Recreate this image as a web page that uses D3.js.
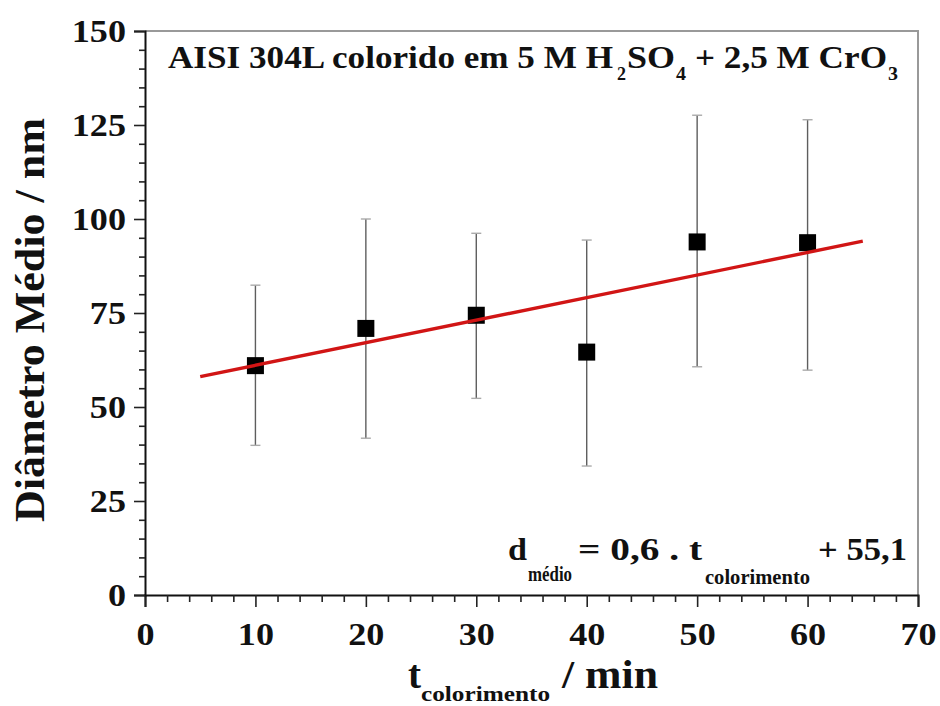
<!DOCTYPE html>
<html>
<head>
<meta charset="utf-8">
<script src="https://cdn.jsdelivr.net/npm/d3@7/dist/d3.min.js"></script>
<style>
  html, body { margin: 0; padding: 0; background: #fff; }
  svg { display: block; }
  text { font-family: "Liberation Serif", "Times New Roman", serif; font-weight: bold; fill: #111; }
</style>
</head>
<body>
<svg id="chart" width="940" height="706"></svg>
<script>
// Colouring time (min) and mean pore diameter (nm) with standard deviation
const times = [10, 20, 30, 40, 50, 60];
const diameters = [61, 70.9, 74.4, 64.6, 93.9, 93.7];
const errLow = [39.8, 41.7, 52.3, 34.3, 60.7, 59.8];
const errHigh = [82.4, 100, 96.2, 94.4, 127.6, 126.4];

// Linear fit: d = 0.6 t + 55.1, drawn between t = 5 and t = 65
const fitSlope = 0.6;
const fitIntercept = 55.1;
const fitRange = [5, 65];

const xTicks = [0, 10, 20, 30, 40, 50, 60, 70];
const yTicks = [0, 25, 50, 75, 100, 125, 150];

const svg = d3.select("#chart");
const margin = { left: 145, right: 22, top: 31, bottom: 111 };
const W = 940, H = 706;

const x = d3.scaleLinear().domain([0, 70]).range([margin.left, W - margin.right]);
const y = d3.scaleLinear().domain([0, 150]).range([H - margin.bottom, margin.top]);

// Frame: top and right borders in grey
svg.append("path")
  .attr("d", `M${x(0)},${y(150)}H${x(70)}V${y(0)}`)
  .attr("fill", "none").attr("stroke", "#999").attr("stroke-width", 2);

// Minor ticks
const minorX = d3.range(0, 70.01, 2).filter(v => v % 10 !== 0);
const minorY = d3.range(0, 150.01, 5).filter(v => v % 25 !== 0);

const tickFont = 32;
const stretch = 1.13; // wide bold serif glyphs

const xAxis = svg.append("g").attr("transform", `translate(0,${y(0)})`);
xAxis.call(d3.axisBottom(x).tickValues(xTicks).tickSize(12).tickFormat(d3.format("d")));
xAxis.append("g").call(d3.axisBottom(x).tickValues(minorX).tickSize(7).tickFormat(""))
  .select(".domain").remove();

const yAxis = svg.append("g").attr("transform", `translate(${x(0)},0)`);
yAxis.call(d3.axisLeft(y).tickValues(yTicks).tickSize(11).tickPadding(8).tickFormat(d3.format("d")));
yAxis.append("g").call(d3.axisLeft(y).tickValues(minorY).tickSize(6).tickFormat(""))
  .select(".domain").remove();

svg.selectAll(".domain").attr("stroke", "#111").attr("stroke-width", 2);
svg.selectAll(".tick line").attr("stroke", "#222").attr("stroke-width", 1.6);
svg.selectAll(".tick text")
  .attr("font-size", tickFont).attr("fill", "#111")
  .style("font-family", "'Liberation Serif', serif").style("font-weight", "bold");

xAxis.selectAll(".tick text").attr("y", 50).attr("dy", 0)
  .attr("transform", `scale(${stretch},1)`);
yAxis.selectAll(".tick text").each(function () {
  const t = d3.select(this);
  const x0 = +t.attr("x");
  t.attr("transform", `translate(${x0},0) scale(${stretch},1) translate(${-x0},0)`);
});

// Error bars
const data = times.map((t, i) => ({ t, d: diameters[i], lo: errLow[i], hi: errHigh[i] }));
const eb = svg.append("g").attr("stroke", "#5e5e5e").attr("stroke-width", 1.4);
eb.selectAll("line.v").data(data).join("line").attr("class", "v")
  .attr("x1", d => x(d.t)).attr("x2", d => x(d.t))
  .attr("y1", d => y(d.lo)).attr("y2", d => y(d.hi));
eb.selectAll("line.cl").data(data).join("line").attr("class", "cl")
  .attr("x1", d => x(d.t) - 5).attr("x2", d => x(d.t) + 5)
  .attr("y1", d => y(d.lo)).attr("y2", d => y(d.lo)).attr("stroke", "#aaa");
eb.selectAll("line.ch").data(data).join("line").attr("class", "ch")
  .attr("x1", d => x(d.t) - 5).attr("x2", d => x(d.t) + 5)
  .attr("y1", d => y(d.hi)).attr("y2", d => y(d.hi)).attr("stroke", "#aaa");

// Points
const sq = 17;
svg.append("g").selectAll("rect").data(data).join("rect")
  .attr("x", d => x(d.t) - sq / 2).attr("y", d => y(d.d) - sq / 2)
  .attr("width", sq).attr("height", sq).attr("fill", "#000");

// Fit line
svg.append("line")
  .attr("x1", x(fitRange[0])).attr("y1", y(fitSlope * fitRange[0] + fitIntercept))
  .attr("x2", x(fitRange[1])).attr("y2", y(fitSlope * fitRange[1] + fitIntercept))
  .attr("stroke", "#d11515").attr("stroke-width", 3.4);

// Text built from pieces, each stretched to its own span [x0, x1]
function piece(str, x0, x1, yb, size) {
  svg.append("text")
    .attr("x", x0).attr("y", yb).attr("font-size", size)
    .attr("textLength", x1 - x0).attr("lengthAdjust", "spacingAndGlyphs")
    .text(str);
}

// Title inside the plot
piece("AISI 304L colorido em 5 M H", 168, 613, 68, 31);
piece("2", 617, 626, 80, 19);
piece("SO", 627, 675, 68, 31);
piece("4", 676, 686, 80, 19);
piece("+ 2,5 M CrO", 695, 887, 68, 31);
piece("3", 888, 898, 80, 19);

// Fit equation
piece("d", 508, 527, 560, 31);
piece("médio", 528, 572, 581, 21);
piece("= 0,6 . t", 578, 702, 560, 31);
piece("colorimento", 705, 810, 584, 21);
piece("+ 55,1", 818, 907, 560, 31);

// X axis title
piece("t", 408, 421, 688, 41);
piece("colorimento", 421, 550, 701, 22);
piece("/ min", 562, 658, 688, 41);

// Y axis title
svg.append("text")
  .attr("transform", `translate(44,320) rotate(-90)`)
  .attr("text-anchor", "middle").attr("font-size", 43)
  .attr("textLength", 404).attr("lengthAdjust", "spacingAndGlyphs")
  .text("Diâmetro Médio / nm");
</script>
</body>
</html>
